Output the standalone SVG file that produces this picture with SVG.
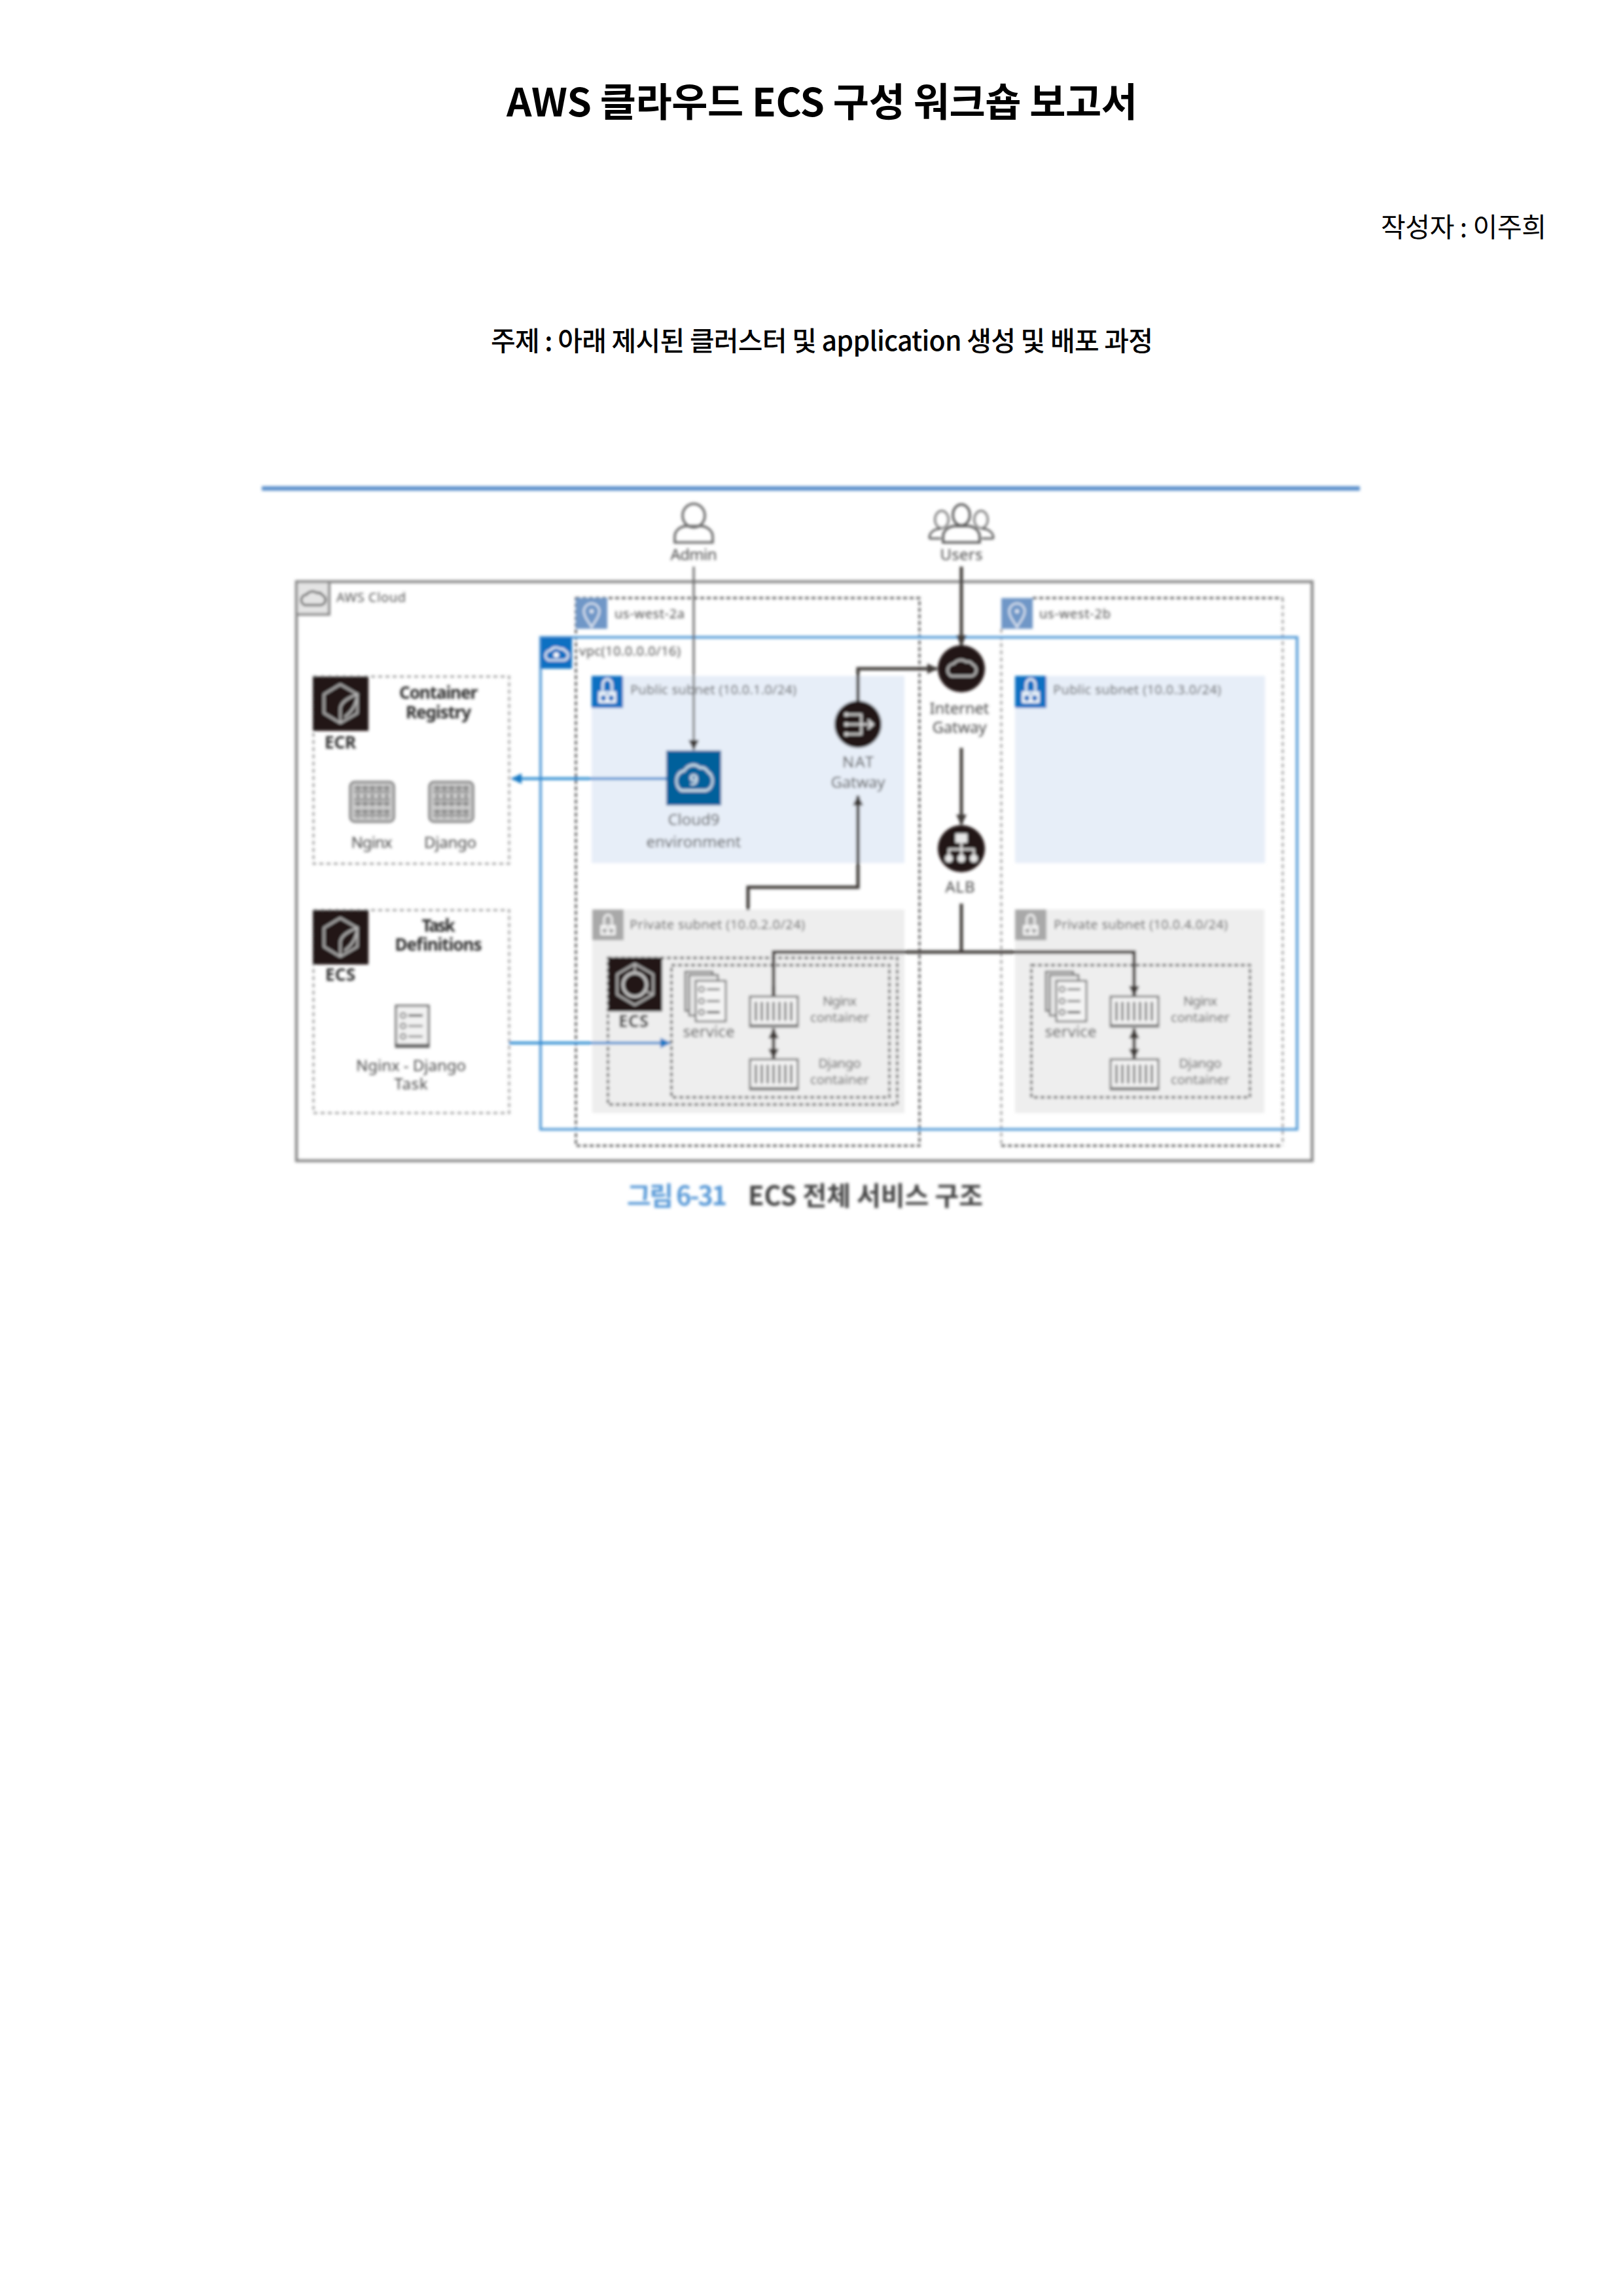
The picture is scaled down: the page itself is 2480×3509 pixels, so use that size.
<svg xmlns="http://www.w3.org/2000/svg" xmlns:xlink="http://www.w3.org/1999/xlink" width="2480" height="3509" viewBox="0 0 2480 3509">
<style>
text{font-family:"Noto Sans","Noto Sans CJK KR",sans-serif}
.kr{font-family:"Noto Sans CJK KR","Noto Sans",sans-serif;fill:#000}
.l{fill:#4a4a4a;font-size:24px;text-anchor:middle}
.s{fill:#505050;font-size:20px}
.c{fill:#555;font-size:20px;text-anchor:middle}
.b{fill:#2e2e2e;font-size:26px;font-weight:700;text-anchor:middle}
.dz{fill:none;stroke:#4a4a4a;stroke-width:3;stroke-dasharray:6 4}
.dl{fill:none;stroke:#8a8a8a;stroke-width:2.5;stroke-dasharray:6 5}
.dk{fill:none;stroke:#555;stroke-width:3.5;stroke-dasharray:6 4}
.ln{fill:none;stroke:#3f3a38;stroke-width:5}
.th{fill:none;stroke:#666;stroke-width:3}
.bl{fill:none;stroke:#2b8ad0;stroke-width:4}
.ic{fill:none;stroke:#fff;stroke-width:3}
.dg{fill:none;stroke:#bbb;stroke-width:3}
.cap{font-family:"Noto Sans CJK KR",sans-serif;font-weight:700;font-size:40px}
</style>
<defs>
<filter id="soft" x="-2%" y="-2%" width="104%" height="104%"><feGaussianBlur stdDeviation="2"/></filter>
<marker id="ak" markerUnits="userSpaceOnUse" markerWidth="18" markerHeight="18" refX="15" refY="8" orient="auto-start-reverse"><path d="M0 0L16 8L0 16Z" fill="#3f3a38"/></marker>
<marker id="ab" markerUnits="userSpaceOnUse" markerWidth="18" markerHeight="18" refX="15" refY="8" orient="auto"><path d="M0 0L16 8L0 16Z" fill="#1478c4"/></marker>
<path id="cloud" d="M-16 12H16A10 10 0 0 0 18 -7A9 9 0 0 0 8 -11A14 14 0 0 0 -12 -8A10.5 10.5 0 0 0 -16 12Z"/>
<g id="lock"><path class="ic" d="M-7 -2V-12A7 8 0 0 1 7 -12V-2"/><circle class="ic" cx="-6" cy="9" r="6"/><circle class="ic" cx="6" cy="9" r="6"/><path class="ic" d="M-12 0H12V15H-12Z"/></g>
<g id="pin"><path d="M0 20C-8 8 -14 0 -14 -8A14 14 0 0 1 14 -8C14 0 8 8 0 20Z" fill="none" stroke="#e8eef6" stroke-width="3"/><circle cy="-8" r="3.5" fill="#e8eef6"/></g>
<g id="ecr"><rect width="85" height="83" fill="#231815"/><path d="M42 12L68 27V56L42 71L17 56V27Z" class="dg"/><path d="M42 71V48Q44 36 68 27Q66 50 48 62" class="dg"/></g>
<g id="ecs2"><rect width="83" height="83" fill="#231815"/><path d="M41 10L69 26V57L41 73L14 57V26Z" class="dg"/><circle cx="41" cy="42" r="18" fill="none" stroke="#ccc" stroke-width="4"/><path d="M41 10V24M69 57L54 50" class="dg"/></g>
<g id="grid"><rect width="67" height="61" rx="7" fill="#c9c9c9" stroke="#777" stroke-width="3"/><path d="M6 9H61M6 15H61M6 27H61M6 33H61M6 45H61M6 51H61" fill="none" stroke="#666" stroke-width="2"/><path d="M12 6V56M23 6V56M34 6V56M45 6V56M56 6V56" fill="none" stroke="#777" stroke-width="3" stroke-dasharray="7 5"/></g>
<g id="box"><rect width="73" height="46" fill="#f4f4f4" stroke="#7a7a7a" stroke-width="3"/><path d="M0 44H73" stroke="#7a7a7a" stroke-width="3"/><path d="M9 8V37M18 8V37M27 8V37M36 8V37M45 8V37M54 8V37M63 8V37" fill="none" stroke="#555" stroke-width="3"/></g>
<g id="svc"><rect x="0" y="0" width="42" height="60" fill="#dedede" stroke="#666" stroke-width="2.5"/><rect x="6" y="5" width="44" height="62" fill="#e8e8e8" stroke="#666" stroke-width="2.5"/><rect x="16" y="14" width="46" height="62" fill="#f4f4f4" stroke="#666" stroke-width="2.5"/><circle cx="25" cy="27" r="4" fill="none" stroke="#555" stroke-width="2"/><circle cx="25" cy="45" r="4" fill="none" stroke="#555" stroke-width="2"/><circle cx="25" cy="62" r="4" fill="none" stroke="#444" stroke-width="2"/><path d="M33 27H53M33 45H53" stroke="#777" stroke-width="3"/><path d="M33 62H53" stroke="#333" stroke-width="3"/></g>
</defs>

<rect width="2480" height="3509" fill="#fff"/>

<g id="heading">
<text class="kr" x="774" y="178" font-size="60" font-weight="700" textLength="964">AWS 클라우드 ECS 구성 워크숍 보고서</text>
<text class="kr" x="2110" y="362" font-size="41" textLength="253">작성자 : 이주희</text>
<text class="kr" x="750" y="536" font-size="41" font-weight="500" textLength="1012">주제 : 아래 제시된 클러스터 및 application 생성 및 배포 과정</text>
</g>

<g id="figure" filter="url(#soft)">
<rect id="figure-rule" x="400" y="743" width="1678" height="7" fill="#5f93cd"/>

<g id="aws-cloud">
<rect x="453" y="889" width="1552" height="885" fill="none" stroke="#8b8b8b" stroke-width="4.5"/>
<rect x="453" y="889" width="50" height="50" fill="#e4e4e4" stroke="#8b8b8b" stroke-width="4"/>
<use href="#cloud" transform="translate(478 915) scale(.8)" fill="none" stroke="#555" stroke-width="4"/>
<text class="s" x="514" y="920" textLength="106">AWS Cloud</text>
</g>

<g id="az-a">
<rect class="dz" x="880" y="914" width="525" height="837"/>
<rect x="880" y="914" width="48" height="47" fill="#6f97c7"/>
<use href="#pin" transform="translate(904 941) scale(.85)"/>
<text class="s" x="939" y="945" textLength="107">us-west-2a</text>
</g>

<g id="az-b">
<path class="dl" d="M1530 961V1751M1960 914V1751"/>
<path class="dz" d="M1578 914H1960M1530 1751H1960"/>
<rect x="1530" y="914" width="48" height="47" fill="#6f97c7"/>
<use href="#pin" transform="translate(1554 941) scale(.85)"/>
<text class="s" x="1588" y="945" textLength="109">us-west-2b</text>
</g>

<g id="vpc">
<rect x="826" y="974" width="1156" height="752" fill="none" stroke="#5a9fd8" stroke-width="4"/>
<rect x="826" y="974" width="48" height="48" fill="#0a6fc2"/>
<use href="#cloud" transform="translate(850 1000) scale(.75)" fill="none" stroke="#fff" stroke-width="3.5"/>
<circle cx="850" cy="1001" r="4" fill="#fff"/>
<text class="s" x="885" y="1002" textLength="155">vpc(10.0.0.0/16)</text>
</g>

<g id="public-subnet-1">
<rect x="904" y="1033" width="478" height="286" fill="#e7eef8"/>
<rect x="904" y="1033" width="48" height="49" fill="#0a6fc2"/>
<use href="#lock" transform="translate(928 1058)"/>
<text class="s" x="963" y="1061" textLength="254">Public subnet (10.0.1.0/24)</text>
</g>

<g id="public-subnet-2">
<rect x="1551" y="1033" width="382" height="286" fill="#e7eef8"/>
<rect x="1551" y="1033" width="48" height="49" fill="#0a6fc2"/>
<use href="#lock" transform="translate(1575 1058)"/>
<text class="s" x="1609" y="1061" textLength="257">Public subnet (10.0.3.0/24)</text>
</g>

<g id="private-subnet-1">
<rect x="905" y="1390" width="477" height="311" fill="#eeeeee"/>
<rect x="905" y="1390" width="48" height="47" fill="#a9a9a9"/>
<use href="#lock" transform="translate(929 1415) scale(.85)"/>
<text class="s" x="962" y="1420" textLength="268">Private subnet (10.0.2.0/24)</text>
</g>

<g id="private-subnet-2">
<rect x="1551" y="1390" width="381" height="311" fill="#eeeeee"/>
<rect x="1551" y="1390" width="48" height="47" fill="#a9a9a9"/>
<use href="#lock" transform="translate(1575 1415) scale(.85)"/>
<text class="s" x="1610" y="1420" textLength="266">Private subnet (10.0.4.0/24)</text>
</g>

<g id="ecr-registry">
<rect class="dl" x="479" y="1034" width="299" height="286"/>
<use href="#ecr" x="478" y="1034"/>
<text class="b" x="520" y="1144" font-size="24" textLength="48">ECR</text>
<text class="b" x="670" y="1068" textLength="120">Container</text>
<text class="b" x="670" y="1098" textLength="100">Registry</text>
<use href="#grid" x="535" y="1195"/>
<use href="#grid" x="656" y="1195"/>
<text class="l" x="568" y="1296" textLength="63">Nginx</text>
<text class="l" x="688" y="1296" textLength="80">Django</text>
</g>

<g id="task-definitions">
<rect class="dl" x="479" y="1391" width="299" height="310"/>
<use href="#ecr" x="478" y="1391"/>
<text class="b" x="520" y="1499" textLength="46">ECS</text>
<text class="b" x="670" y="1424" textLength="51">Task</text>
<text class="b" x="670" y="1453" textLength="133">Definitions</text>
<rect x="605" y="1537" width="50" height="63" fill="#f2f2f2" stroke="#666" stroke-width="3"/>
<path d="M605 1597H655" stroke="#444" stroke-width="3"/>
<circle cx="616" cy="1552" r="4" fill="none" stroke="#555" stroke-width="2"/><circle cx="616" cy="1568" r="4" fill="none" stroke="#555" stroke-width="2"/><circle cx="616" cy="1584" r="4" fill="none" stroke="#555" stroke-width="2"/>
<path d="M624 1552H646" stroke="#333" stroke-width="3"/><path d="M624 1568H646M624 1584H646" stroke="#888" stroke-width="3"/>
<text class="l" x="628" y="1637" textLength="168">Nginx - Django</text>
<text class="l" x="628" y="1665" textLength="51">Task</text>
</g>

<g id="ecs-cluster">
<rect class="dk" x="929" y="1464" width="442" height="224"/>
<use href="#ecs2" x="929" y="1463"/>
<text class="b" x="968" y="1570" textLength="46">ECS</text>
</g>

<g id="service-a">
<rect class="dk" x="1026" y="1475" width="333" height="202"/>
<use href="#svc" x="1047" y="1485"/>
<text class="l" x="1083" y="1585" textLength="79">service</text>
<use href="#box" x="1146" y="1523"/>
<use href="#box" x="1146" y="1619"/>
<text class="c" x="1283" y="1537" font-size="19" textLength="52">Nginx</text>
<text class="c" x="1283" y="1562" textLength="90">container</text>
<text class="c" x="1283" y="1632" font-size="19" textLength="65">Django</text>
<text class="c" x="1283" y="1657" textLength="90">container</text>
</g>

<g id="service-b">
<rect class="dk" x="1576" y="1475" width="334" height="202"/>
<use href="#svc" x="1598" y="1485"/>
<text class="l" x="1636" y="1585" textLength="79">service</text>
<use href="#box" x="1697" y="1523"/>
<use href="#box" x="1697" y="1619"/>
<text class="c" x="1834" y="1537" font-size="19" textLength="52">Nginx</text>
<text class="c" x="1834" y="1562" textLength="90">container</text>
<text class="c" x="1834" y="1632" font-size="19" textLength="65">Django</text>
<text class="c" x="1834" y="1657" textLength="90">container</text>
</g>

<g id="connectors">
<path class="th" d="M1060 866V1146" marker-end="url(#ak)"/>
<path class="ln" d="M1469 866V986" marker-end="url(#ak)"/>
<path class="ln" d="M1311 1072V1022H1432" marker-end="url(#ak)"/>
<path class="ln" d="M1143 1391V1356H1311V1216" marker-end="url(#ak)"/>
<path class="ln" d="M1469 1143V1260" marker-end="url(#ak)"/>
<path class="ln" d="M1469 1381V1455M1182 1522V1455H1733V1522"/>
<path class="ln" d="M1182 1507V1522M1733 1507V1522" marker-end="url(#ak)"/>
<path class="ln" d="M1182 1572V1618" marker-start="url(#ak)" marker-end="url(#ak)"/>
<path class="ln" d="M1733 1572V1618" marker-start="url(#ak)" marker-end="url(#ak)"/>
<path class="bl" d="M1018 1190H782" marker-end="url(#ab)"/>
<path class="bl" d="M778 1594H1024" marker-end="url(#ab)"/>
</g>

<g id="admin">
<ellipse cx="1060" cy="788" rx="17" ry="18" fill="none" stroke="#666" stroke-width="3.5"/>
<path d="M1031 829V820C1031 810 1042 803 1050 804H1070C1078 803 1089 810 1089 820V829Z" fill="none" stroke="#666" stroke-width="3.5"/>
<text class="l" x="1060" y="856" textLength="71">Admin</text>
</g>

<g id="users">
<ellipse cx="1469" cy="787" rx="13" ry="16" fill="none" stroke="#555" stroke-width="3.5"/>
<ellipse cx="1439" cy="794" rx="10" ry="13" fill="#fff" stroke="#555" stroke-width="3"/>
<ellipse cx="1499" cy="794" rx="10" ry="13" fill="#fff" stroke="#555" stroke-width="3"/>
<path d="M1420 823C1420 812 1430 808 1437 808M1518 823C1518 812 1508 808 1501 808M1420 823H1438M1500 823H1518" fill="none" stroke="#555" stroke-width="3"/>
<path d="M1441 829V820C1441 810 1452 803 1460 804H1478C1486 803 1497 810 1497 820V829Z" fill="none" stroke="#555" stroke-width="3.5"/>
<text class="l" x="1469" y="856" textLength="65">Users</text>
</g>

<g id="cloud9">
<rect x="1018" y="1147" width="84" height="84" fill="#02609b"/>
<use href="#cloud" transform="translate(1060 1190) scale(1.2 1.5)" fill="none" stroke="#d8e6f0" stroke-width="2.5"/>
<text x="1060" y="1200" font-size="24" font-weight="700" fill="#d8e6f0" text-anchor="middle">9</text>
<text class="l" x="1060" y="1261" textLength="79">Cloud9</text>
<text class="l" x="1060" y="1295" textLength="145">environment</text>
</g>

<g id="nat-gateway">
<circle cx="1311" cy="1107" r="36" fill="#231815"/>
<path d="M1293 1092H1316V1122H1293M1293 1107H1334M1326 1100L1334 1107L1326 1114" fill="none" stroke="#ddd" stroke-width="3"/>
<circle cx="1293" cy="1092" r="3" fill="#ddd"/><circle cx="1293" cy="1107" r="3" fill="#ddd"/><circle cx="1293" cy="1122" r="3" fill="#ddd"/>
<text class="l" x="1311" y="1173" textLength="48">NAT</text>
<text class="l" x="1311" y="1204" textLength="83">Gatway</text>
</g>

<g id="internet-gateway">
<circle cx="1469" cy="1022" r="36" fill="#231815"/>
<use href="#cloud" transform="translate(1469 1022) scale(.95)" fill="none" stroke="#ccc" stroke-width="3"/>
<text class="l" x="1466" y="1091" textLength="91">Internet</text>
<text class="l" x="1466" y="1120" textLength="83">Gatway</text>
</g>

<g id="alb">
<circle cx="1469" cy="1297" r="36" fill="#231815"/>
<rect x="1460" y="1274" width="18" height="14" fill="#e8e8e8"/>
<path d="M1469 1288V1298M1450 1308V1298H1488V1308M1469 1298V1308" fill="none" stroke="#e8e8e8" stroke-width="3"/>
<circle cx="1450" cy="1312" r="6" fill="#e8e8e8"/><circle cx="1469" cy="1312" r="6" fill="#e8e8e8"/><circle cx="1488" cy="1312" r="6" fill="#e8e8e8"/>
<text class="l" x="1467" y="1364" textLength="45">ALB</text>
</g>

<g id="caption">
<text class="cap" x="958" y="1842" fill="#5b9bd8" textLength="153">그림 6-31</text>
<text class="cap" x="1143" y="1842" fill="#444" textLength="359">ECS 전체 서비스 구조</text>
</g>
</g>
</svg>
